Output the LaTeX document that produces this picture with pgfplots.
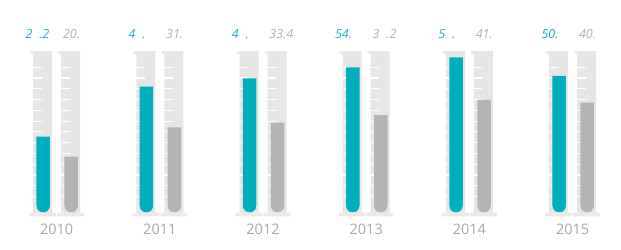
\documentclass[border=0pt]{standalone}
\usepackage{pgfplots}
\pgfplotsset{compat=1.18}
\usepackage{fontspec}
\setmainfont{Open Sans}
\definecolor{teal1}{HTML}{00AFBE}
\definecolor{tealtxt}{HTML}{1AAFC0}
\definecolor{grbar}{HTML}{B4B4B4}
\definecolor{grtxt}{HTML}{B0B0B0}
\definecolor{yrtxt}{HTML}{A8A8A8}
\definecolor{tube}{HTML}{E6E6E6}
\definecolor{plate}{HTML}{EAEAEA}

\pgfdeclareplotmark{lipbase}{%
  \pgfpathrectanglecorners{\pgfpoint{-12.5bp}{158.4bp}}{\pgfpoint{-9.5bp}{161.4bp}}%
  \pgfpathrectanglecorners{\pgfpoint{-13.5bp}{-3.9bp}}{\pgfpoint{13.5bp}{0bp}}%
  \pgfusepathqfill}
\pgfdeclareplotmark{scaleticks}{%
  \foreach \k in {0,...,12}{%
    \pgfmathsetmacro\yy{(6+4*\k)*2.69}%
    \pgfpathmoveto{\pgfpoint{-9.5bp}{\yy bp}}%
    \pgfpathlineto{\pgfpoint{-1bp}{\yy bp}}%
  }%
  \pgfusepathqstroke}
\pgfdeclareplotmark{cmask}{%
  \pgfpathmoveto{\pgfpoint{-7.3bp}{-0.3bp}}%
  \pgfpathlineto{\pgfpoint{-7.3bp}{6.75bp}}%
  \pgfpathlineto{\pgfpoint{-6.75bp}{6.75bp}}%
  \pgfpatharc{180}{270}{6.75bp}%
  \pgfpathlineto{\pgfpoint{0bp}{-0.3bp}}%
  \pgfpathclose
  \pgfpathmoveto{\pgfpoint{7.3bp}{-0.3bp}}%
  \pgfpathlineto{\pgfpoint{7.3bp}{6.75bp}}%
  \pgfpathlineto{\pgfpoint{6.75bp}{6.75bp}}%
  \pgfpatharc{0}{-90}{6.75bp}%
  \pgfpathlineto{\pgfpoint{0bp}{-0.3bp}}%
  \pgfpathclose
  \pgfusepathqfill}

\begin{document}
\begin{tikzpicture}
\begin{axis}[scale only axis, width=621bp, height=250bp,
  xmin=0, xmax=621, ymin=-13.903, ymax=79.033,
  hide axis, clip=false, clip marker paths=true]
\path (axis cs:0,-13.903) rectangle (axis cs:621,79.033);
% tube backgrounds
\addplot[ybar, bar width=19bp, bar shift=0pt, fill=tube, draw=none]
  coordinates {(42.6,60) (145.8,60) (249.0,60) (352.2,60) (455.4,60) (558.6,60)
               (70.6,60) (173.8,60) (277.0,60) (380.2,60) (483.4,60) (586.6,60)};
% scale ticks
\addplot[only marks, mark=scaleticks, mark options={draw=white, line width=1.2bp}]
  coordinates {(42.6,0) (145.8,0) (249.0,0) (352.2,0) (455.4,0) (558.6,0)
               (70.6,0) (173.8,0) (277.0,0) (380.2,0) (483.4,0) (586.6,0)};
% teal series
\addplot[ybar, bar width=13.5bp, bar shift=0pt, fill=teal1, draw=none]
  coordinates {(43.2,28.2) (146.4,46.8) (249.6,49.9) (352.8,54.0) (456.0,57.7) (559.2,50.8)};
% gray series
\addplot[ybar, bar width=13.5bp, bar shift=0pt, fill=grbar, draw=none]
  coordinates {(71.2,20.8) (174.4,31.7) (277.6,33.4) (380.8,36.2) (484.0,41.9) (587.2,40.9)};
% rounded bottoms
\addplot[only marks, mark=cmask, mark options={fill=tube, draw=none}]
  coordinates {(43.2,0) (146.4,0) (249.6,0) (352.8,0) (456.0,0) (559.2,0)
               (71.2,0) (174.4,0) (277.6,0) (380.8,0) (484.0,0) (587.2,0)};
% lips and base plates
\addplot[only marks, mark=lipbase, mark options={fill=plate, draw=none}]
  coordinates {(42.6,0) (145.8,0) (249.0,0) (352.2,0) (455.4,0) (558.6,0)
               (70.6,0) (173.8,0) (277.0,0) (380.2,0) (483.4,0) (586.6,0)};
% value labels
\begin{scope}[every node/.style={anchor=base west, inner sep=0pt,
    font=\fontsize{12.5bp}{15bp}\selectfont\itshape}]
\node[text=tealtxt] at (axis cs:25.3,64.72) {2\phantom{8}.2};
\node[text=tealtxt] at (axis cs:128.5,64.72) {4\phantom{6}.\phantom{8}};
\node[text=tealtxt] at (axis cs:231.7,64.72) {4\phantom{9}.\phantom{9}};
\node[text=tealtxt] at (axis cs:334.9,64.72) {54.\phantom{0}};
\node[text=tealtxt] at (axis cs:438.1,64.72) {5\phantom{7}.\phantom{7}};
\node[text=tealtxt] at (axis cs:541.3,64.72) {50.\phantom{8}};
\node[text=grtxt] at (axis cs:62.8,64.72) {20.\phantom{8}};
\node[text=grtxt] at (axis cs:166.0,64.72) {31.\phantom{7}};
\node[text=grtxt] at (axis cs:269.2,64.72) {33.4};
\node[text=grtxt] at (axis cs:372.4,64.72) {3\phantom{6}.2};
\node[text=grtxt] at (axis cs:475.6,64.72) {41.\phantom{9}};
\node[text=grtxt] at (axis cs:578.8,64.72) {40.\phantom{9}};
\end{scope}
% year labels
\begin{scope}[every node/.style={anchor=base, inner sep=0pt, text=yrtxt,
    font=\fontsize{14.5bp}{17bp}\selectfont}]
\node at (axis cs:56.6,-7.96) {2010};
\node at (axis cs:159.8,-7.96) {2011};
\node at (axis cs:263.0,-7.96) {2012};
\node at (axis cs:366.2,-7.96) {2013};
\node at (axis cs:469.4,-7.96) {2014};
\node at (axis cs:572.6,-7.96) {2015};
\end{scope}
\end{axis}
\end{tikzpicture}
\end{document}
